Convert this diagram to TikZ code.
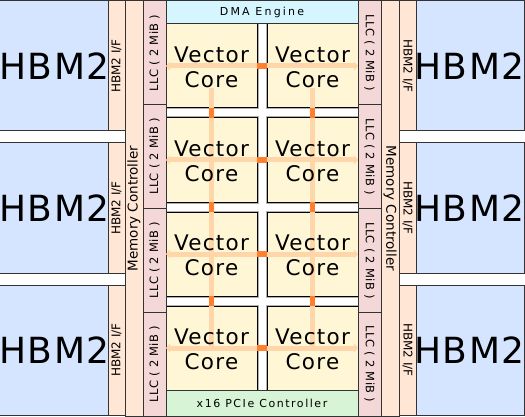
\documentclass[tikz,border=0pt]{standalone}
\usepackage{fontspec}
\setmainfont{DejaVu Sans}
\usetikzlibrary{arrows.meta}
\definecolor{hbmblue}{RGB}{213,229,255}
\definecolor{ifpeach}{RGB}{255,230,213}
\definecolor{llcpink}{RGB}{244,215,215}
\definecolor{coreyellow}{RGB}{255,246,213}
\definecolor{dmacyan}{RGB}{213,246,255}
\definecolor{pciegreen}{RGB}{215,244,215}
\definecolor{linklight}{RGB}{255,213,170}
\definecolor{linkdark}{RGB}{255,127,42}
\tikzset{
    chipbox/.style={draw=black!80, line width=1pt, inner sep=0pt, outer sep=0pt, align=center},
    hbmbox/.style={chipbox, fill=hbmblue, minimum width=107pt, minimum height=130pt, font=\fontsize{36}{40}\selectfont\addfontfeature{LetterSpace=4}},
    ifbox/.style={chipbox, fill=ifpeach, minimum width=130pt, minimum height=17pt, font=\fontsize{12}{14}\selectfont},
    mcbox/.style={chipbox, fill=ifpeach, minimum width=415pt, minimum height=18pt, font=\fontsize{13.5}{15}\selectfont},
    llcbox/.style={chipbox, fill=llcpink, minimum width=103.75pt, minimum height=23pt, font=\fontsize{11.5}{13}\selectfont\addfontfeature{LetterSpace=4}},
    corebox/.style={chipbox, draw=black, fill=coreyellow, minimum width=91pt, minimum height=84pt, preaction={draw=black!30, line width=3pt}},
    corelabel/.style={align=center, inner sep=0pt, font=\fontsize{21.5}{25}\selectfont\addfontfeature{LetterSpace=6}},
    dmabox/.style={chipbox, fill=dmacyan, minimum width=192pt, minimum height=23pt, font=\fontsize{11}{13}\selectfont\addfontfeature{LetterSpace=20}},
    pciebox/.style={chipbox, fill=pciegreen, minimum width=192pt, minimum height=26pt, font=\fontsize{11}{13}\selectfont\addfontfeature{LetterSpace=14}},
    leftside/.style={rotate=90},
    rightside/.style={rotate=-90},
    linkline/.style={draw=linklight, line width=5pt},
    linkarrow/.style={linkline, {Triangle[width=9pt,length=4pt]}-{Triangle[width=9pt,length=4pt]}},
    linkdark/.style={draw=linkdark, line width=5.5pt}
}
\begin{document}
\begin{tikzpicture}[x=1pt, y=-1pt]
    \useasboundingbox (0,0) rectangle (525,417);

    % memory stacks
    \node[hbmbox] (hbmL1) at (54.5,66) {HBM2};
    \node[hbmbox] (hbmL2) at (54.5,208) {HBM2};
    \node[hbmbox] (hbmL3) at (54.5,350) {HBM2};
    \node[hbmbox] (hbmR1) at (469.5,66) {HBM2};
    \node[hbmbox] (hbmR2) at (469.5,208) {HBM2};
    \node[hbmbox] (hbmR3) at (469.5,350) {HBM2};

    \node[ifbox, leftside] (ifL1) at (116.5,66) {HBM2 I/F};
    \node[ifbox, leftside] (ifL2) at (116.5,208) {HBM2 I/F};
    \node[ifbox, leftside] (ifL3) at (116.5,350) {HBM2 I/F};
    \node[ifbox, rightside] (ifR1) at (407.5,66) {HBM2 I/F};
    \node[ifbox, rightside] (ifR2) at (407.5,208) {HBM2 I/F};
    \node[ifbox, rightside] (ifR3) at (407.5,350) {HBM2 I/F};

    \node[mcbox, leftside] (mcL) at (134,208.5) {Memory Controller};
    \node[mcbox, rightside] (mcR) at (390,208.5) {Memory Controller};

    % cores
    \node[corebox] (c11) at (211.5,66) {};
    \node[corebox] (c12) at (312.5,66) {};
    \node[corebox] (c21) at (211.5,160) {};
    \node[corebox] (c22) at (312.5,160) {};
    \node[corebox] (c31) at (211.5,254) {};
    \node[corebox] (c32) at (312.5,254) {};
    \node[corebox] (c41) at (211.5,348) {};
    \node[corebox] (c42) at (312.5,348) {};

    \node[dmabox] (dma) at (262,12.5) {DMA Engine};
    \node[pciebox] (pcie) at (262,403) {x16 PCIe Controller};

    % last level cache
    \node[llcbox, leftside] (llcL1) at (154.5,52.875) {LLC ( 2 MiB )};
    \node[llcbox, leftside] (llcL2) at (154.5,156.625) {LLC ( 2 MiB )};
    \node[llcbox, leftside] (llcL3) at (154.5,260.375) {LLC ( 2 MiB )};
    \node[llcbox, leftside] (llcL4) at (154.5,364.125) {LLC ( 2 MiB )};
    \node[llcbox, rightside] (llcR1) at (369.5,52.875) {LLC ( 2 MiB )};
    \node[llcbox, rightside] (llcR2) at (369.5,156.625) {LLC ( 2 MiB )};
    \node[llcbox, rightside] (llcR3) at (369.5,260.375) {LLC ( 2 MiB )};
    \node[llcbox, rightside] (llcR4) at (369.5,364.125) {LLC ( 2 MiB )};

    % on-chip links
    \draw[linkarrow] (c11.west) -- (c12.east);
    \draw[linkarrow] (c21.west) -- (c22.east);
    \draw[linkarrow] (c31.west) -- (c32.east);
    \draw[linkarrow] (c41.west) -- (c42.east);
    \draw[linkline] ([yshift=-22pt]c11.center) -- (c41.center);
    \draw[linkline] ([yshift=-22pt]c12.center) -- (c42.center);

    \draw[linkdark] (c11.east) -- (c12.west);
    \draw[linkdark] (c21.east) -- (c22.west);
    \draw[linkdark] (c31.east) -- (c32.west);
    \draw[linkdark] (c41.east) -- (c42.west);
    \draw[linkdark] (c11.south) -- (c21.north);
    \draw[linkdark] (c21.south) -- (c31.north);
    \draw[linkdark] (c31.south) -- (c41.north);
    \draw[linkdark] (c12.south) -- (c22.north);
    \draw[linkdark] (c22.south) -- (c32.north);
    \draw[linkdark] (c32.south) -- (c42.north);

    \node[corelabel] (t11) at ([yshift=-1.5pt]c11.center) {Vector\\Core};
    \node[corelabel] (t12) at ([yshift=-1.5pt]c12.center) {Vector\\Core};
    \node[corelabel] (t21) at ([yshift=-1.5pt]c21.center) {Vector\\Core};
    \node[corelabel] (t22) at ([yshift=-1.5pt]c22.center) {Vector\\Core};
    \node[corelabel] (t31) at ([yshift=-1.5pt]c31.center) {Vector\\Core};
    \node[corelabel] (t32) at ([yshift=-1.5pt]c32.center) {Vector\\Core};
    \node[corelabel] (t41) at ([yshift=-1.5pt]c41.center) {Vector\\Core};
    \node[corelabel] (t42) at ([yshift=-1.5pt]c42.center) {Vector\\Core};
\end{tikzpicture}
\end{document}
